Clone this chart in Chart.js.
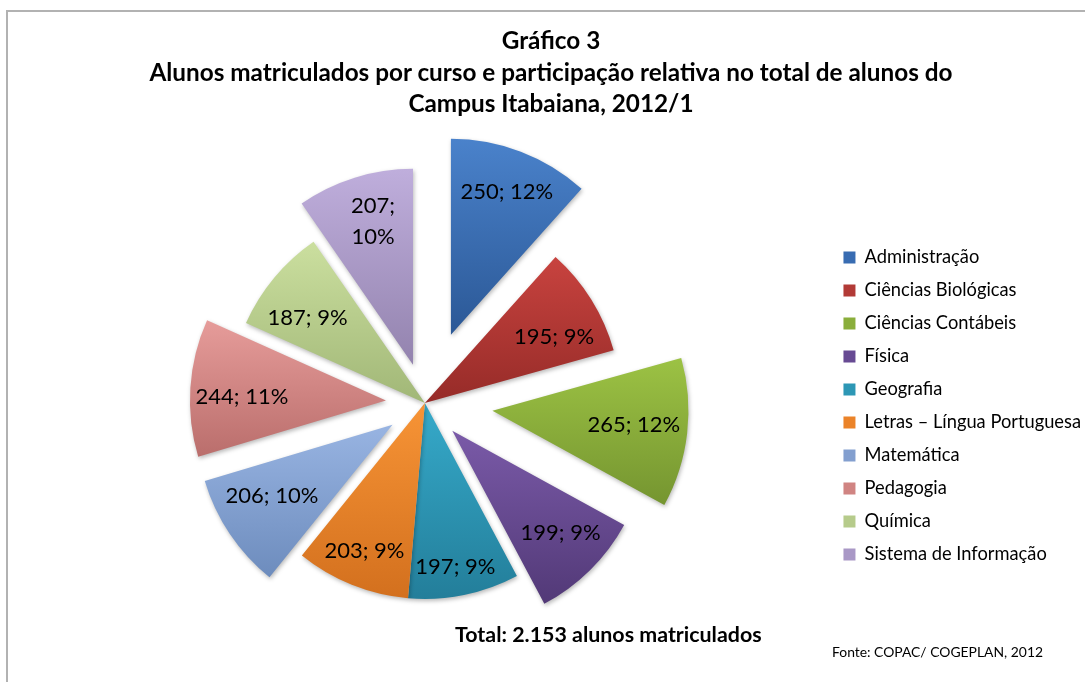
<!DOCTYPE html>
<html>
<head>
<meta charset="utf-8">
<script src="https://cdn.jsdelivr.net/npm/chart.js@4.4.1/dist/chart.umd.min.js"></script>
<style>
html,body{margin:0;padding:0;background:#fff;}
#wrap{position:relative;width:1085px;height:682px;overflow:hidden;font-family:Lato,"Open Sans",sans-serif;color:#000;}
#frame{position:absolute;left:6px;top:10px;width:1200px;height:800px;border-left:2px solid #b2b2b2;border-top:2px solid #b2b2b2;box-sizing:border-box;}
#c{position:absolute;left:0;top:0;}
.t{position:absolute;left:0;width:1102px;text-align:center;font-weight:700;font-size:24.3px;line-height:32px;white-space:nowrap;}
.foot{position:absolute;white-space:nowrap;}
</style>
</head>
<body>
<div id="wrap">
  <div id="frame"></div>
  <canvas id="c" width="1085" height="682"></canvas>
  <div class="t" style="top:24px">Gráfico 3</div>
  <div class="t" style="top:56px">Alunos matriculados por curso e participação relativa no total de alunos do</div>
  <div class="t" style="top:87px">Campus Itabaiana, 2012/1</div>
  <div class="foot" style="left:455px;top:620px;font-weight:700;font-size:21.4px;line-height:28px;">Total: 2.153 alunos matriculados</div>
  <div class="foot" style="left:832px;top:642px;font-size:13.9px;line-height:20px;">Fonte: COPAC/ COGEPLAN, 2012</div>
</div>
<script>
// ---- data ----
const categories = ["Administração","Ciências Biológicas","Ciências Contábeis","Física","Geografia","Letras – Língua Portuguesa","Matemática","Pedagogia","Química","Sistema de Informação"];
const enrolled = [250,195,265,199,197,203,206,244,187,207];

// ---- styling (not data) ----
const explodePx = [73,0,68,39,0,0,39,39,0,40];
const colorsTop = ["#4A82CB","#C8433F","#9CC244","#7A5AA8","#36AACA","#F79436","#98B4E2","#E69C9A","#CBDF9F","#BFAEDC"];
const colorsBottom = ["#2B5896","#962B28","#759530","#523977","#237E9A","#D3701E","#6D8CBD","#BA6E6C","#A1B777","#9383AE"];
const legendColors = ["#386CB2","#B23A36","#8AAE3B","#674A93","#2D97B5","#EB8329","#839FCF","#D08482","#B6CB8B","#A998C6"];
const labelRadius = [0.784,0.74,0.725,0.76,0.85,0.815,0.714,0.735,0.74,0.76];
const labelAngleT = [0.51,0.65,0.48,0.44,0.53,0.51,0.60,0.44,0.38,0.55];
const labelWrap = [false,false,false,false,false,false,false,false,false,true];
const PIE_RADIUS = 196;

const total = enrolled.reduce((a,b)=>a+b,0);

function sliceAngles(i){
  let s = -Math.PI/2;
  for (let k=0;k<i;k++) s += 2*Math.PI*enrolled[k]/total;
  return [s, s + 2*Math.PI*enrolled[i]/total];
}
function inRange(a, s, e){
  const TAU = 2*Math.PI;
  let d = ((a - s) % TAU + TAU) % TAU;
  return d <= (e - s);
}
function sliceFill(context){
  const chart = context.chart, i = context.dataIndex;
  const area = chart.chartArea;
  if (!area || i === undefined) return legendColors[i] || '#888';
  const [s,e] = sliceAngles(i);
  const mid = (s+e)/2;
  const cx = (area.left+area.right)/2 + Math.cos(mid)*explodePx[i];
  const cy = (area.top+area.bottom)/2 + Math.sin(mid)*explodePx[i];
  const ys = [cy, cy+PIE_RADIUS*Math.sin(s), cy+PIE_RADIUS*Math.sin(e)];
  if (inRange(Math.PI/2, s, e)) ys.push(cy+PIE_RADIUS);
  if (inRange(-Math.PI/2, s, e)) ys.push(cy-PIE_RADIUS);
  const minY = Math.min(...ys), maxY = Math.max(...ys);
  const g = chart.ctx.createLinearGradient(0, minY, 0, maxY);
  g.addColorStop(0, colorsTop[i]);
  g.addColorStop(1, colorsBottom[i]);
  return g;
}

const explodePlugin = {
  id: 'explode',
  afterDatasetsUpdate(chart){
    const meta = chart.getDatasetMeta(0);
    meta.data.forEach((el,i)=>{
      const mid = (el.startAngle + el.endAngle)/2;
      el.x += Math.cos(mid)*explodePx[i];
      el.y += Math.sin(mid)*explodePx[i];
    });
  },
  beforeDatasetsDraw(chart){
    const c = chart.ctx;
    c.save();
    c.shadowColor = 'rgba(0,0,0,0.28)';
    c.shadowBlur = 4;
    c.shadowOffsetX = 1;
    c.shadowOffsetY = 2;
  },
  afterDatasetsDraw(chart){
    const c = chart.ctx;
    c.restore();
    c.save();
    c.font = '22px Lato';
    c.fillStyle = '#000';
    c.textAlign = 'center';
    c.textBaseline = 'middle';
    const meta = chart.getDatasetMeta(0);
    meta.data.forEach((el,i)=>{
      const ang = el.startAngle + (el.endAngle - el.startAngle)*labelAngleT[i];
      const r = el.outerRadius * labelRadius[i];
      const x = el.x + Math.cos(ang)*r;
      const y = el.y + Math.sin(ang)*r;
      const pct = Math.round(enrolled[i]/total*100);
      const lines = labelWrap[i] ? [enrolled[i]+';', pct+'%'] : [enrolled[i]+'; '+pct+'%'];
      lines.forEach((ln,k)=>c.fillText(ln, x, y + (k-(lines.length-1)/2)*31));
    });
    c.restore();
  }
};

new Chart(document.getElementById('c'), {
  type: 'pie',
  data: {
    labels: categories,
    datasets: [{
      data: enrolled,
      backgroundColor: sliceFill,
      borderWidth: 0
    }]
  },
  options: {
    responsive: false,
    devicePixelRatio: 1,
    animation: false,
    events: [],
    radius: PIE_RADIUS,
    layout: { padding: { left: 21, right: -6, top: 150, bottom: 26 } },
    plugins: {
      title: { display: false },
      tooltip: { enabled: false },
      legend: {
        display: true,
        position: 'right',
        align: 'center',
        title: { display: true, text: '', padding: 0, font: { family: 'Lato', size: 5 } },
        labels: {
          boxWidth: 12,
          boxHeight: 12,
          padding: 14.7,
          color: '#000',
          font: { family: 'Lato', size: 18.3 },
          generateLabels(chart){
            return categories.map((name,i)=>({
              text: name,
              fillStyle: legendColors[i],
              strokeStyle: legendColors[i],
              lineWidth: 0,
              hidden: false,
              index: i,
              fontColor: '#000'
            }));
          }
        }
      }
    }
  },
  plugins: [explodePlugin]
});
</script>
</body>
</html>
